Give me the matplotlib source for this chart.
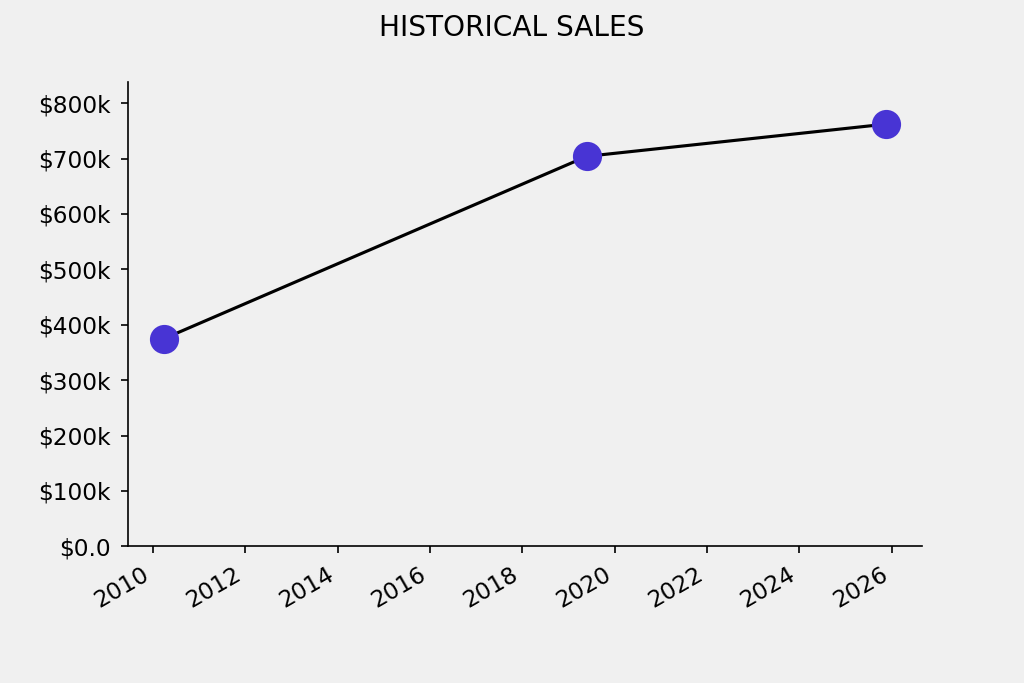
import datetime as dt
import matplotlib
matplotlib.use("Agg")
import matplotlib.pyplot as plt
import matplotlib.ticker as mticker

dates = [dt.date(2010, 3, 28), dt.date(2019, 5, 26), dt.date(2025, 11, 14)]
sales = [375000, 704000, 762000]

bg = "#f0f0f0"
plt.rcParams["font.size"] = 11.2
plt.rcParams["ytick.major.pad"] = 5
plt.rcParams["xtick.major.pad"] = 4.5


def money(x, pos):
    if x == 0:
        return "$0.0"
    return f"${x / 1000:.0f}k"


fig, ax = plt.subplots(figsize=(1024 / 150, 683 / 150), dpi=150)
fig.patch.set_facecolor(bg)
ax.set_facecolor(bg)

ax.plot(dates, sales, color="black", lw=1.5, zorder=1)
ax.plot(dates, sales, "o", color="#4834d4", markersize=13, zorder=2)

ax.set_ylim(0, max(sales) * 1.1)
ax.yaxis.set_major_locator(mticker.MultipleLocator(100000))
ax.yaxis.set_major_formatter(mticker.FuncFormatter(money))

ax.spines["top"].set_visible(False)
ax.spines["right"].set_visible(False)

fig.suptitle("HISTORICAL SALES")
fig.autofmt_xdate()

fig.savefig("out.png", dpi=150, facecolor=bg)
